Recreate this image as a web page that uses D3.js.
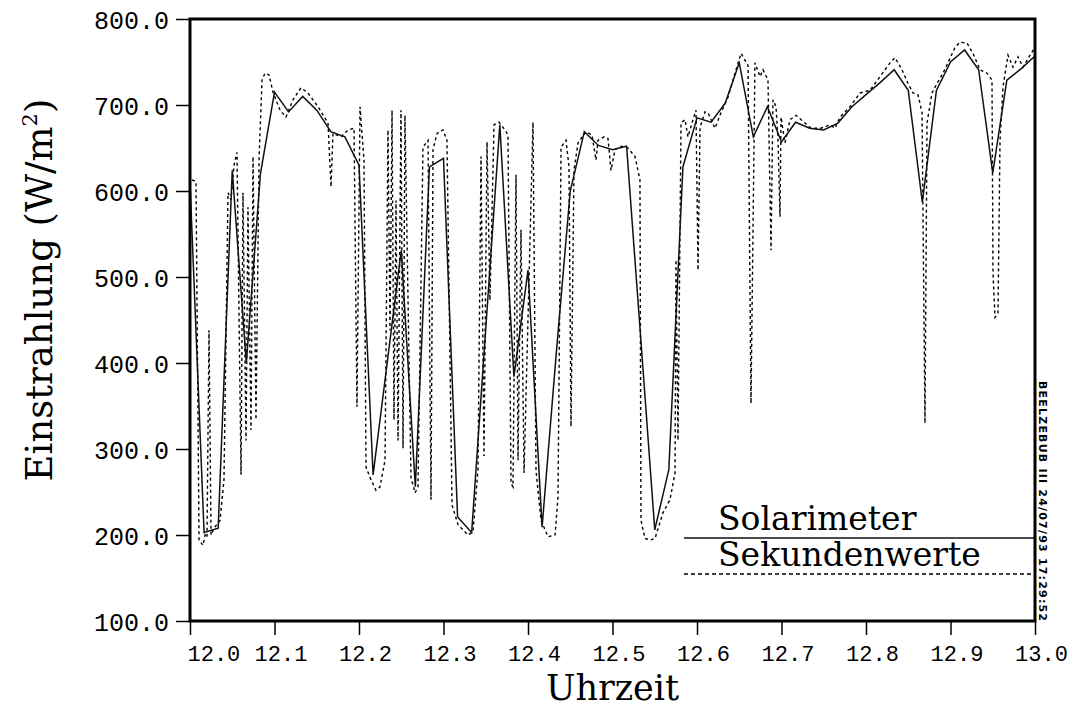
<!DOCTYPE html>
<html>
<head>
<meta charset="utf-8">
<script src="https://cdn.jsdelivr.net/npm/d3@7"></script>
<style>
  body { margin: 0; background: #fff; }
  svg { display: block; }
  .tick-label { font-family: "Liberation Mono", "DejaVu Sans Mono", monospace; fill: #000; }
  .title { font-family: "DejaVu Serif", serif; fill: #000; }
</style>
</head>
<body>
<div id="chart"></div>
<script>
// Solarimeter: Minutenwerte 12:00 - 13:00 (W/m2)
const solarWerte = [610, 203, 208, 624, 400, 620, 715, 692, 710, 694,
  669, 663, 630, 270, 400, 531, 256, 628, 638, 221,
  203, 440, 677, 384, 508, 209, 410, 600, 669, 653,
  648, 652, 430, 206, 276, 628, 685, 680, 702, 749,
  663, 698, 657, 680, 673, 671, 679, 698, 712, 726,
  741, 717, 587, 717, 750, 764, 741, 621, 729, 742, 757];

// Sekundenwerte (Uhrzeit in h, Wert in W/m2)
const sekZeit = [12.0024, 12.0071, 12.0107, 12.0154, 12.0178, 12.0201, 12.0225, 12.0249, 12.0284, 12.0355,
  12.0402, 12.0450, 12.0485, 12.0521, 12.0556, 12.0604, 12.0627, 12.0663, 12.0686, 12.0722,
  12.0746, 12.0781, 12.0817, 12.0852, 12.0888, 12.0935, 12.0982, 12.1065, 12.1136, 12.1219,
  12.1314, 12.1396, 12.1515, 12.1633, 12.1669, 12.1692, 12.1787, 12.1870, 12.1941, 12.1976,
  12.2012, 12.2059, 12.2083, 12.2130, 12.2201, 12.2249, 12.2308, 12.2343, 12.2367, 12.2391,
  12.2414, 12.2438, 12.2462, 12.2497, 12.2521, 12.2544, 12.2615, 12.2663, 12.2698, 12.2757,
  12.2817, 12.2852, 12.2876, 12.2923, 12.2994, 12.3041, 12.3101, 12.3172, 12.3290, 12.3349,
  12.3408, 12.3444, 12.3479, 12.3515, 12.3550, 12.3598, 12.3657, 12.3728, 12.3763, 12.3799,
  12.3822, 12.3858, 12.3882, 12.3917, 12.3953, 12.4012, 12.4059, 12.4095, 12.4154, 12.4237,
  12.4320, 12.4355, 12.4391, 12.4450, 12.4485, 12.4509, 12.4544, 12.4592, 12.4686, 12.4757,
  12.4805, 12.4828, 12.4899, 12.4947, 12.4982, 12.5030, 12.5101, 12.5183, 12.5266, 12.5325,
  12.5337, 12.5385, 12.5444, 12.5503, 12.5598, 12.5680, 12.5740, 12.5751, 12.5775, 12.5811,
  12.5858, 12.5893, 12.5953, 12.5988, 12.6012, 12.6036, 12.6095, 12.6130, 12.6213, 12.6284,
  12.6367, 12.6450, 12.6521, 12.6604, 12.6639, 12.6686, 12.6746, 12.6781, 12.6840, 12.6876,
  12.6899, 12.6935, 12.6959, 12.6982, 12.6994, 12.7041, 12.7101, 12.7172, 12.7278, 12.7349,
  12.7467, 12.7574, 12.7633, 12.7692, 12.7811, 12.7929, 12.8047, 12.8166, 12.8284, 12.8343,
  12.8426, 12.8497, 12.8556, 12.8615, 12.8663, 12.8698, 12.8722, 12.8781, 12.8840, 12.8911,
  12.8970, 12.9053, 12.9112, 12.9195, 12.9266, 12.9349, 12.9432, 12.9491, 12.9503, 12.9527,
  12.9562, 12.9586, 12.9621, 12.9680, 12.9740, 12.9799, 12.9858, 12.9941, 13.0000];
const sekWert = [613, 611, 194, 188, 200, 197, 438, 200, 208, 217,
  264, 598, 590, 630, 645, 270, 598, 310, 581, 322,
  640, 334, 636, 729, 737, 735, 715, 694, 686, 706,
  720, 714, 698, 679, 605, 667, 663, 671, 673, 349,
  698, 636, 279, 267, 252, 256, 287, 671, 438, 694,
  334, 589, 310, 694, 301, 688, 267, 249, 256, 651,
  659, 241, 648, 667, 671, 659, 235, 212, 200, 204,
  276, 640, 292, 657, 473, 677, 680, 671, 665, 260,
  256, 619, 287, 555, 272, 497, 680, 275, 217, 198,
  200, 244, 651, 659, 628, 326, 624, 656, 669, 665,
  636, 659, 663, 661, 624, 648, 652, 650, 640, 613,
  217, 196, 194, 196, 226, 241, 272, 520, 310, 679,
  683, 663, 683, 694, 508, 674, 692, 691, 673, 691,
  709, 737, 760, 746, 353, 749, 733, 741, 729, 531,
  706, 698, 659, 570, 686, 656, 683, 688, 679, 673,
  673, 677, 673, 686, 698, 714, 717, 733, 749, 755,
  741, 725, 714, 712, 691, 330, 679, 714, 725, 737,
  749, 767, 773, 772, 760, 741, 737, 729, 505, 453,
  458, 659, 721, 758, 744, 756, 744, 758, 767];

const yTicks = [100, 200, 300, 400, 500, 600, 700, 800];
const xTicks = [12.0, 12.1, 12.2, 12.3, 12.4, 12.5, 12.6, 12.7, 12.8, 12.9, 13.0];
const legendNamen = ['Solarimeter', 'Sekundenwerte'];
const stempel = 'BEELZEBUB III 24/07/93 17:29:52';

const width = 1074, height = 709;
const margins = { top: 19, right: 39, bottom: 88, left: 190 };

const x = d3.scaleLinear()
  .domain([12, 13])
  .range([margins.left, width - margins.right]);
const y = d3.scaleLinear()
  .domain([100, 800])
  .range([height - margins.bottom, margins.top]);

const svg = d3.select('#chart')
  .append('svg')
  .attr('width', width)
  .attr('height', height);

// Axis ticks
const yAxis = svg.append('g')
  .attr('transform', `translate(${margins.left},0)`)
  .call(d3.axisLeft(y).tickValues(yTicks).tickSize(14).tickSizeOuter(0).tickFormat(d3.format('.1f')));
yAxis.select('.domain').remove();
yAxis.selectAll('line').attr('stroke', '#000').attr('stroke-width', 1.5);
yAxis.selectAll('text')
  .attr('class', 'tick-label')
  .attr('font-size', 25)
  .attr('x', -21)
  .attr('dy', '0.36em');

const xAxis = svg.append('g')
  .attr('transform', `translate(0,${height - margins.bottom})`)
  .call(d3.axisBottom(x).tickValues(xTicks).tickSize(14).tickSizeOuter(0).tickFormat(d3.format('.1f')));
xAxis.select('.domain').remove();
xAxis.selectAll('line').attr('stroke', '#000').attr('stroke-width', 1.5);
xAxis.selectAll('text')
  .attr('class', 'tick-label')
  .attr('font-size', 22)
  .attr('y', 40)
  .attr('dy', 0)
  .attr('x', 6)
  .attr('text-anchor', (d, i) => i === 0 ? 'start' : 'middle')
  .filter((d, i) => i === 0).attr('x', -3);

// Data lines
svg.append('clipPath').attr('id', 'plot-clip')
  .append('rect')
  .attr('x', margins.left).attr('y', margins.top)
  .attr('width', width - margins.left - margins.right)
  .attr('height', height - margins.top - margins.bottom);

const plot = svg.append('g').attr('clip-path', 'url(#plot-clip)');

const sekLine = d3.line().x((d, i) => x(sekZeit[i])).y(d => y(d));
plot.append('path')
  .datum(sekWert)
  .attr('d', sekLine)
  .attr('fill', 'none')
  .attr('stroke', '#000')
  .attr('stroke-width', 1.4)
  .attr('stroke-dasharray', '3,3');

const solarLine = d3.line().x((d, i) => x(12 + i / 60)).y(d => y(d));
plot.append('path')
  .datum(solarWerte)
  .attr('d', solarLine)
  .attr('fill', 'none')
  .attr('stroke', '#111')
  .attr('stroke-width', 1.5);

// Frame
svg.append('rect')
  .attr('x', margins.left).attr('y', margins.top)
  .attr('width', width - margins.left - margins.right)
  .attr('height', height - margins.top - margins.bottom)
  .attr('fill', 'none')
  .attr('stroke', '#000')
  .attr('stroke-width', 3);

// Legend
const legend = svg.append('g');
legend.append('text').attr('class', 'title')
  .attr('x', 718).attr('y', 530).attr('font-size', 33).text(legendNamen[0]);
legend.append('line')
  .attr('x1', 684).attr('x2', width - margins.right)
  .attr('y1', 538).attr('y2', 538)
  .attr('stroke', '#111').attr('stroke-width', 1.5);
legend.append('text').attr('class', 'title')
  .attr('x', 718).attr('y', 566).attr('font-size', 33).text(legendNamen[1]);
legend.append('line')
  .attr('x1', 684).attr('x2', width - margins.right)
  .attr('y1', 574).attr('y2', 574)
  .attr('stroke', '#000').attr('stroke-width', 1.4)
  .attr('stroke-dasharray', '4,3');

// Axis titles
svg.append('text').attr('class', 'title')
  .attr('x', (margins.left + width - margins.right) / 2)
  .attr('y', 700)
  .attr('text-anchor', 'middle')
  .attr('font-size', 35)
  .text('Uhrzeit');

const yTitle = svg.append('text').attr('class', 'title')
  .attr('transform', 'translate(52,290) rotate(-90)')
  .attr('text-anchor', 'middle')
  .attr('font-size', 37);
yTitle.append('tspan').text('Einstrahlung (W/m');
yTitle.append('tspan').attr('font-size', 21).attr('dy', -15).text('2');
yTitle.append('tspan').attr('dy', 15).text(')');

// Stamp
svg.append('text')
  .attr('transform', 'translate(1039,381) rotate(90)')
  .attr('font-family', '"DejaVu Sans", sans-serif')
  .attr('font-weight', 'bold')
  .attr('font-size', 11)
  .attr('textLength', 240)
  .attr('lengthAdjust', 'spacing')
  .text(stempel);
</script>
</body>
</html>
